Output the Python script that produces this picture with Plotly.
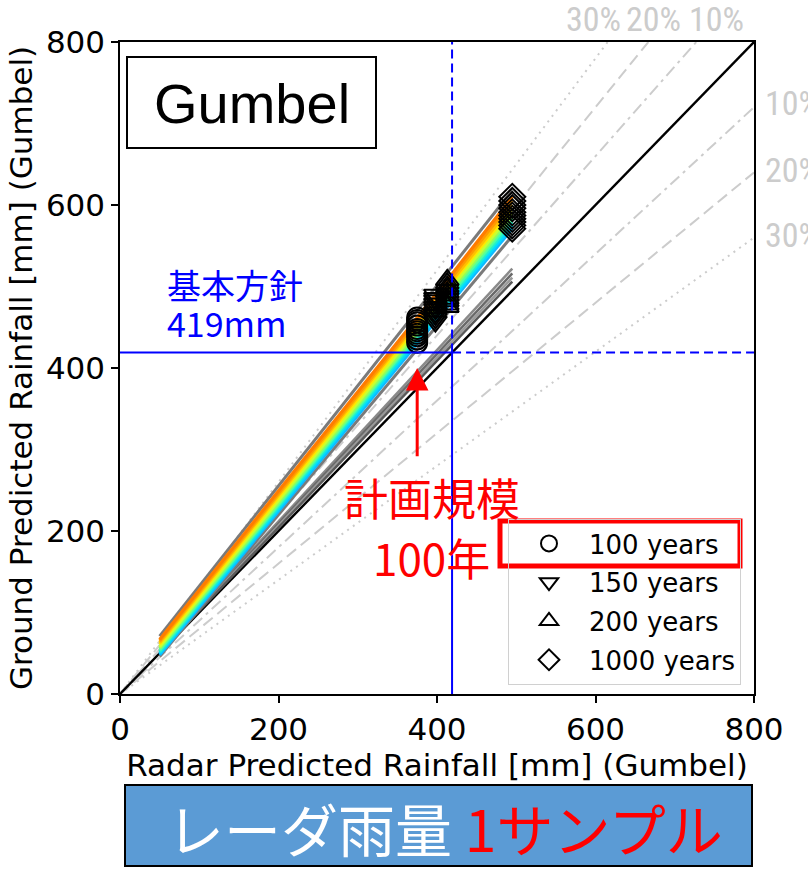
import plotly.graph_objects as go

# ---------------- data ----------------
# Radar predicted rainfall (single radar sample): start point and return periods 100/150/200/1000 yr
RADAR_X = [50, 375, 398, 413, 495]
MARK_IDX = [1, 2, 3, 4]
MARK_NAMES = ["100 years", "150 years", "200 years", "1000 years"]
MARK_SYMBOLS = ["circle-open", "triangle-down-open", "triangle-up-open", "diamond-open"]

# Ground predicted rainfall for each ground sample at RADAR_X (coloured samples)
GROUND_S1 = [67, 462, 490, 508, 610]
GROUND_S2 = [65, 459, 486, 504, 605]
GROUND_S3 = [63, 456, 483, 500, 600]
GROUND_S4 = [61, 452, 479, 497, 596]
GROUND_S5 = [58, 448, 475, 493, 591]
GROUND_S6 = [56, 445, 472, 489, 587]
GROUND_S7 = [54, 442, 468, 485, 583]
GROUND_S8 = [52, 439, 465, 482, 579]
GROUND_S9 = [50, 435, 461, 478, 575]
GROUND_S10 = [48, 431, 457, 475, 571]
COLOR_SAMPLES = [GROUND_S10, GROUND_S9, GROUND_S8, GROUND_S7, GROUND_S6,
                 GROUND_S5, GROUND_S4, GROUND_S3, GROUND_S2, GROUND_S1]
SAMPLE_COLORS = ["#10b8ff", "#00dcff", "#20f0d0", "#50ffa0", "#8cff60",
                 "#c8ff30", "#ffe800", "#ffc000", "#ff9a00", "#ff7c00"]

# Gray samples (start / end only)
GRAY_X = [50, 495]
GRAY_TOP = [71, 618]
GRAY_BAND_LOW = [46, 562]
GRAY_LOWER_1 = [54, 522]
GRAY_LOWER_2 = [53, 516]
GRAY_LOWER_3 = [52, 511]
GRAY_LOWER_4 = [51, 506]
GRAY_COLORS = ["#8a8a8a", "#6a6a6a", "#9a9a9a", "#5a5a5a"]

# reference ratio lines
RATIO_LABELS = ["10%", "20%", "30%"]
RATIO_STEPS = [0.1, 0.2, 0.3]
RATIO_DASHES = ["12px,5px,3px,5px", "12px,6px", "2px,5px"]

PLAN_VALUE = 419          # 基本方針 419mm
AXIS_MAX = 800
TICKS = [0, 200, 400, 600, 800]
ARROW_Y = [290, 400]

# ---------------- layout helpers ----------------
W, H = 808, 880
PL, PR, PT, PB = 120, 754, 42, 694


def fx(px):
    return (px - PL) / (PR - PL)


def fy(py):
    return (PB - py) / (PB - PT)


fig = go.Figure()
LIGHT = "#cccccc"

# ratio lines
for step, dash in zip(RATIO_STEPS, RATIO_DASHES):
    k_up = 1 + step
    fig.add_trace(go.Scatter(x=[0, AXIS_MAX / k_up], y=[0, AXIS_MAX], mode="lines",
                             line=dict(color=LIGHT, width=2, dash=dash),
                             showlegend=False, hoverinfo="skip"))
    k_dn = 1 - step
    fig.add_trace(go.Scatter(x=[0, AXIS_MAX], y=[0, AXIS_MAX * k_dn], mode="lines",
                             line=dict(color=LIGHT, width=2, dash=dash),
                             showlegend=False, hoverinfo="skip"))

# 1:1 line
fig.add_trace(go.Scatter(x=[0, AXIS_MAX], y=[0, AXIS_MAX], mode="lines",
                         line=dict(color="black", width=2.4),
                         showlegend=False, hoverinfo="skip"))

# gray samples
for ys, c in zip([GRAY_LOWER_1, GRAY_LOWER_2, GRAY_LOWER_3, GRAY_LOWER_4], GRAY_COLORS):
    fig.add_trace(go.Scatter(x=GRAY_X, y=ys, mode="lines",
                             line=dict(color=c, width=2.5),
                             showlegend=False, hoverinfo="skip"))
for ys in [GRAY_BAND_LOW, GRAY_TOP]:
    fig.add_trace(go.Scatter(x=GRAY_X, y=ys, mode="lines",
                             line=dict(color="#7a7a7a", width=3),
                             showlegend=False, hoverinfo="skip"))

# coloured samples
for ys, c in zip(COLOR_SAMPLES, SAMPLE_COLORS):
    fig.add_trace(go.Scatter(x=RADAR_X, y=ys, mode="lines",
                             line=dict(color=c, width=3.2),
                             showlegend=False, hoverinfo="skip"))

# markers
for idx, name, sym in zip(MARK_IDX, MARK_NAMES, MARK_SYMBOLS):
    xs = [RADAR_X[idx]] * len(COLOR_SAMPLES)
    ys = [s[idx] for s in COLOR_SAMPLES]
    fig.add_trace(go.Scatter(x=xs, y=ys, mode="markers", name=name,
                             legendgroup=name,
                             marker=dict(symbol=sym, size=20, color="black",
                                         line=dict(color="black", width=2)),
                             hoverinfo="skip"))

# plan lines (blue)
BLUE = "#0000ff"
fig.add_trace(go.Scatter(x=[0, PLAN_VALUE], y=[PLAN_VALUE, PLAN_VALUE], mode="lines",
                         line=dict(color=BLUE, width=2), showlegend=False, hoverinfo="skip"))
fig.add_trace(go.Scatter(x=[PLAN_VALUE, AXIS_MAX], y=[PLAN_VALUE, PLAN_VALUE], mode="lines",
                         line=dict(color=BLUE, width=2, dash="9px,5px"), showlegend=False, hoverinfo="skip"))
fig.add_trace(go.Scatter(x=[PLAN_VALUE, PLAN_VALUE], y=[0, PLAN_VALUE], mode="lines",
                         line=dict(color=BLUE, width=2), showlegend=False, hoverinfo="skip"))
fig.add_trace(go.Scatter(x=[PLAN_VALUE, PLAN_VALUE], y=[PLAN_VALUE, AXIS_MAX], mode="lines",
                         line=dict(color=BLUE, width=2, dash="9px,5px"), showlegend=False, hoverinfo="skip"))

# ---------------- annotations & shapes ----------------
shapes = []
annos = []


def text_anno(text, px, py, size, color, family, xanchor="center"):
    return dict(text=text, xref="paper", yref="paper", x=fx(px), y=fy(py),
                xanchor=xanchor, yanchor="middle", showarrow=False,
                font=dict(family=family, size=size, color=color))


# Gumbel box
shapes.append(dict(type="rect", xref="paper", yref="paper",
                   x0=fx(127), x1=fx(376), y0=fy(148), y1=fy(57),
                   line=dict(color="black", width=2), fillcolor="white", layer="above"))
annos.append(text_anno("Gumbel", 251.5, 103, 56, "black", "Liberation Sans, Arial"))

# 基本方針
annos.append(text_anno("基本方針", 165, 284, 34, BLUE, "Noto Sans CJK JP", "left"))
annos.append(text_anno("419mm", 165, 323, 34, BLUE, "Noto Sans CJK JP", "left"))

# red arrow + 計画規模 100年
annos.append(dict(x=RADAR_X[1], y=ARROW_Y[1], ax=RADAR_X[1], ay=ARROW_Y[0],
                  xref="x", yref="y", axref="x", ayref="y", text="",
                  showarrow=True, arrowhead=2, arrowsize=1.5, arrowwidth=3, arrowcolor="#ff0000"))
annos.append(text_anno("計画規模", 431.5, 497, 44, "#ff0000", "Noto Sans CJK JP"))
annos.append(text_anno("100年", 431.5, 557, 44, "#ff0000", "Noto Sans CJK JP"))

# ratio labels
NARROW = "Liberation Sans Narrow, Roboto Condensed, Liberation Sans, sans-serif"
for lab, cx in zip(RATIO_LABELS, [716, 653, 593]):
    annos.append(text_anno(lab, cx, 19, 34, LIGHT, NARROW))
for lab, cy in zip(RATIO_LABELS, [103, 170, 235]):
    annos.append(text_anno(lab, 763, cy, 34, LIGHT, NARROW, "left"))

# legend highlight
shapes.append(dict(type="rect", xref="paper", yref="paper",
                   x0=fx(500), x1=fx(740), y0=fy(566), y1=fy(521),
                   line=dict(color="#ff0000", width=5), layer="above"))

# bottom banner
shapes.append(dict(type="rect", xref="paper", yref="paper",
                   x0=fx(125), x1=fx(752), y0=fy(866), y1=fy(785),
                   line=dict(color="black", width=2), fillcolor="#5b9bd5"))
annos.append(text_anno("レーダ雨量 <span style='color:#ff0000'>1サンプル</span>",
                       445, 827, 57, "white", "Noto Sans CJK JP"))

AX_FONT = dict(family="DejaVu Sans", size=31, color="black")
TITLE_FONT = dict(family="DejaVu Sans", size=31, color="black")
fig.update_layout(
    width=W, height=H,
    margin=dict(l=PL, r=W - PR, t=PT, b=H - PB),
    paper_bgcolor="white", plot_bgcolor="white",
    shapes=shapes, annotations=annos,
    showlegend=True,
    legend=dict(x=fx(741), y=fy(685), xanchor="right", yanchor="bottom",
                bgcolor="rgba(255,255,255,0)", bordercolor="#d0d0d0", borderwidth=1,
                font=dict(family="DejaVu Sans", size=26, color="black"),
                tracegroupgap=2, itemwidth=70),
    xaxis=dict(range=[0, AXIS_MAX], tickvals=TICKS, ticks="outside", ticklen=7,
               tickwidth=1.5, tickcolor="black", showline=True, linecolor="black",
               linewidth=1.5, mirror=True, showgrid=False, zeroline=False,
               tickfont=AX_FONT,
               title=dict(text="Radar Predicted Rainfall [mm] (Gumbel)",
                          font=TITLE_FONT, standoff=4)),
    yaxis=dict(range=[0, AXIS_MAX], tickvals=TICKS, ticks="outside", ticklen=7,
               tickwidth=1.5, tickcolor="black", showline=True, linecolor="black",
               linewidth=1.5, mirror=True, showgrid=False, zeroline=False,
               tickfont=AX_FONT,
               title=dict(text="Ground Predicted Rainfall [mm] (Gumbel)",
                          font=TITLE_FONT, standoff=4)),
)

fig.write_html("out.html")
